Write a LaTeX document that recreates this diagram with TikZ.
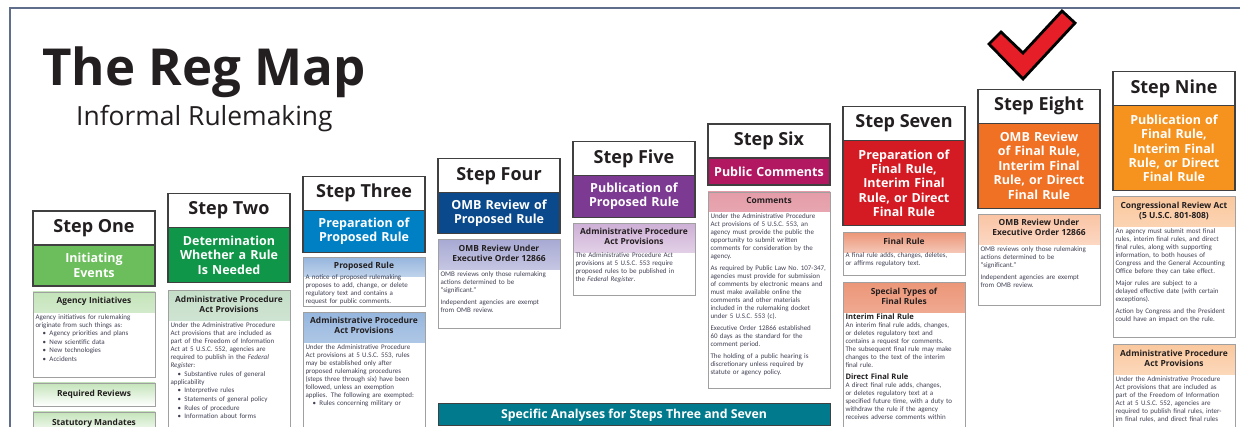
\documentclass[tikz,border=0pt]{standalone}
\usepackage{fontspec}
\setmainfont{Open Sans}
\newfontfamily\bodyfont{Carlito}
\usetikzlibrary{positioning}

\definecolor{framecol}{RGB}{96,110,140}
\definecolor{edgecol}{RGB}{64,64,64}
\definecolor{boxcol}{RGB}{160,160,160}
\definecolor{bodycol}{RGB}{66,66,86}
\definecolor{headcol}{RGB}{35,31,32}
\definecolor{checkred}{RGB}{230,30,40}
\definecolor{oneband}{RGB}{108,190,92}
\definecolor{twoband}{RGB}{16,150,72}
\definecolor{threeband}{RGB}{0,128,196}
\definecolor{fourband}{RGB}{10,74,140}
\definecolor{fiveband}{RGB}{124,58,146}
\definecolor{sixband}{RGB}{178,24,98}
\definecolor{sevenband}{RGB}{212,26,34}
\definecolor{eightband}{RGB}{240,112,36}
\definecolor{nineband}{RGB}{246,146,30}
\definecolor{analysisband}{RGB}{0,122,140}
\definecolor{onetint}{RGB}{196,228,186}
\definecolor{twotint}{RGB}{196,222,200}
\definecolor{threetint}{RGB}{150,182,222}
\definecolor{fourtint}{RGB}{168,170,212}
\definecolor{fivetint}{RGB}{206,176,214}
\definecolor{sixtint}{RGB}{228,156,168}
\definecolor{seventint}{RGB}{236,150,120}
\definecolor{eighttint}{RGB}{250,196,164}
\definecolor{ninetint}{RGB}{250,200,158}

\setlength{\parindent}{0pt}
\newcommand{\boxtitle}[2][7.5pt]{{\centering\normalfont\bfseries\fontsize{8.4}{10}\selectfont\color{headcol}#2\par}\vspace{#1}}
\newcommand{\subhead}[1]{{\normalfont\bfseries\fontsize{7.6}{8}\selectfont\color{headcol}#1}\\}
\newcommand{\itm}{\par\vspace{0.6pt}\hangindent=14pt\hangafter=1\hspace*{7pt}\textbullet\hspace{3.5pt}}
\newcommand{\gap}{\par\vspace{4pt}}

\begin{document}
\begin{tikzpicture}[
  x=1pt, y=-1pt,
  stephead/.style={
    draw=edgecol,
    line width=1.3pt,
    fill=white,
    anchor=north west,
    outer sep=0pt,
    minimum width=122pt,
    minimum height=34pt,
    text=headcol,
    font=\bfseries\fontsize{18}{20}\selectfont
  },
  stepband/.style={
    draw=edgecol,
    line width=1.3pt,
    fill=#1,
    outer sep=0pt,
    minimum width=122pt,
    text width=116pt,
    inner sep=2pt,
    align=center,
    text=white,
    font=\bfseries\fontsize{12.5}{14.4}\selectfont
  },
  infobox/.style 2 args={
    draw=boxcol,
    line width=0.9pt,
    fill=white,
    outer sep=0pt,
    minimum width=122pt,
    text=headcol,
    font=\bfseries\fontsize{8.4}{10}\selectfont,
    path picture={\shade[top color=#1, bottom color=white]
      (path picture bounding box.north west) rectangle
      ([yshift=-#2]path picture bounding box.north east);}
  },
  infotext/.style={
    text width=117pt,
    inner sep=0pt,
    align=left,
    text=bodycol,
    font=\bodyfont\fontsize{7}{8}\selectfont
  }
]
\fill[white] (0,0) rectangle (1240,427);
\useasboundingbox (0,0) rectangle (1240,427);
\clip (0,0) rectangle (1240,427);

% Frame and title
\draw[framecol, line width=1.5pt] (10,430) -- (10,8) -- (1242,8);
\node[anchor=base west, inner sep=0pt, text=headcol, font=\bfseries\fontsize{51}{60}\selectfont] (title) at (42,86) {The Reg Map};
\node[anchor=base west, inner sep=0pt, text=headcol, font=\fontsize{26.4}{30}\selectfont] (subtitle) at (76,126) {Informal Rulemaking};

% Check mark
\filldraw[fill=checkred, draw=black, line width=2.8pt, miter limit=10]
  (989,44) -- (1001,32) -- (1023,53) -- (1062,11) -- (1075,23) -- (1023,79) -- cycle;

% Step One
\node[stephead] (h1) at (33,211) {Step One};
\node[stepband=oneband, minimum height=41pt, below=0pt of h1] (b1) {Initiating\\Events};
\node[infobox={onetint}{21pt}, minimum height=85pt, below=6pt of b1] (i1a) {};
\node[infotext, below=5pt of i1a.north] (t1a) {\boxtitle{Agency Initiatives}Agency initiatives for rulemaking\\ originate from such things as:
  \itm Agency priorities and plans \itm New scientific data \itm New technologies \itm Accidents};
\node[infobox={onetint}{23pt}, minimum height=23pt, below=6pt of i1a] (i1b) {Required Reviews};
\node[infobox={onetint}{23pt}, minimum height=23pt, below=6pt of i1b] (i1c) {Statutory Mandates};

% Step Two
\node[stephead] (h2) at (168,193.6) {Step Two};
\node[stepband=twoband, minimum height=55pt, below=0pt of h2] (b2) {Determination\\Whether a Rule\\Is Needed};
\node[infobox={twotint}{30pt}, minimum height=160pt, below=8pt of b2] (i2a) {};
\node[infotext, below=5pt of i2a.north] (t2a) {\boxtitle{Administrative Procedure\\Act Provisions}Under the Administrative Procedure\\ Act provisions that are included as\\ part of the Freedom of Information\\ Act at 5 U.S.C. 552, agencies are\\ required to publish in the \emph{Federal}\\ \emph{Register}:
  \itm Substantive rules of general\\ applicability \itm Interpretive rules \itm Statements of general policy \itm Rules of procedure \itm Information about forms};

% Step Three
\node[stephead] (h3) at (303,176.2) {Step Three};
\node[stepband=threeband, minimum height=42pt, below=0pt of h3] (b3) {Preparation of\\Proposed Rule};
\node[infobox={threetint}{19pt}, minimum height=49pt, below=5pt of b3] (i3a) {};
\node[infotext, below=5pt of i3a.north] (t3a) {\boxtitle[3pt]{Proposed Rule}A notice of proposed rulemaking\\ proposes to add, change, or delete\\ regulatory text and contains a\\ request for public comments.};
\node[infobox={threetint}{30pt}, minimum height=130pt, below=6pt of i3a] (i3b) {};
\node[infotext, below=5pt of i3b.north] (t3b) {\boxtitle{Administrative Procedure\\Act Provisions}Under the Administrative Procedure\\ Act provisions at 5 U.S.C. 553, rules\\ may be established only after\\ proposed rulemaking procedures\\ (steps three through six) have been\\ followed, unless an exemption\\ applies. The following are exempted:
  \itm Rules concerning military or};

% Step Four
\node[stephead] (h4) at (438,158.8) {Step Four};
\node[stepband=fourband, minimum height=41pt, below=0pt of h4] (b4) {OMB Review of\\Proposed Rule};
\node[infobox={fourtint}{30pt}, minimum height=89pt, below=6pt of b4] (i4a) {};
\node[infotext, below=5pt of i4a.north] (t4a) {\boxtitle{OMB Review Under\\Executive Order 12866}OMB reviews only those rulemaking\\ actions determined to be\\ “significant.”\gap Independent agencies are exempt\\ from OMB review.};

% Step Five
\node[stephead] (h5) at (573,141.4) {Step Five};
\node[stepband=fiveband, minimum height=42pt, below=0pt of h5] (b5) {Publication of\\Proposed Rule};
\node[infobox={fivetint}{29pt}, minimum height=72pt, below=6pt of b5] (i5a) {};
\node[infotext, below=5pt of i5a.north] (t5a) {\boxtitle[5pt]{Administrative Procedure\\Act Provisions}The Administrative Procedure Act\\ provisions at 5 U.S.C. 553 require\\ proposed rules to be published in\\ the \emph{Federal Register}.};

% Step Six
\node[stephead] (h6) at (708,124) {Step Six};
\node[stepband=sixband, minimum height=27pt, below=0pt of h6] (b6) {Public Comments};
\node[infobox={sixtint}{20pt}, minimum height=196pt, below=7pt of b6] (i6a) {};
\node[infotext, below=5pt of i6a.north] (t6a) {\boxtitle{Comments}Under the Administrative Procedure\\ Act provisions of 5 U.S.C. 553, an\\ agency must provide the public the\\ opportunity to submit written\\ comments for consideration by the\\ agency.\gap As required by Public Law No.~107-347,\\ agencies must provide for submission\\ of comments by electronic means and\\ must make available online the\\ comments and other materials\\ included in the rulemaking docket\\ under 5 U.S.C. 553 (c).\gap Executive Order 12866 established\\ 60 days as the standard for the\\ comment period.\gap The holding of a public hearing is\\ discretionary unless required by\\ statute or agency policy.};

% Step Seven
\node[stephead] (h7) at (843,106.6) {Step Seven};
\node[stepband=sevenband, minimum height=85pt, below=0pt of h7] (b7) {Preparation of\\Final Rule,\\Interim Final\\Rule, or Direct\\Final Rule};
\node[infobox={seventint}{20pt}, minimum height=43pt, below=7pt of b7] (i7a) {};
\node[infotext, below=5pt of i7a.north] (t7a) {\boxtitle[5pt]{Final Rule}A final rule adds, changes, deletes,\\ or affirms regulatory text.};
\node[infobox={seventint}{30pt}, minimum height=160pt, below=7pt of i7a] (i7b) {};
\node[infotext, below=5pt of i7b.north] (t7b) {\boxtitle{Special Types of\\Final Rules}\subhead{Interim Final Rule}An interim final rule adds, changes,\\ or deletes regulatory text and\\ contains a request for comments.\\ The subsequent final rule may make\\ changes to the text of the interim\\ final rule.\gap \subhead{Direct Final Rule}A direct final rule adds, changes,\\ or deletes regulatory text at a\\ specified future time, with a duty to\\ withdraw the rule if the agency\\ receives adverse comments within};

% Step Eight
\node[stephead] (h8) at (978,89.2) {Step Eight};
\node[stepband=eightband, minimum height=85pt, below=0pt of h8] (b8) {OMB Review\\of Final Rule,\\Interim Final\\Rule, or Direct\\Final Rule};
\node[infobox={eighttint}{30pt}, minimum height=91pt, below=6pt of b8] (i8a) {};
\node[infotext, below=5pt of i8a.north] (t8a) {\boxtitle{OMB Review Under\\Executive Order 12866}OMB reviews only those rulemaking\\ actions determined to be\\ “significant.”\gap Independent agencies are exempt\\ from OMB review.};

% Step Nine
\node[stephead] (h9) at (1113,71.8) {Step Nine};
\node[stepband=nineband, minimum height=85pt, below=0pt of h9] (b9) {Publication of\\Final Rule,\\Interim Final\\Rule, or Direct\\Final Rule};
\node[infobox={ninetint}{30pt}, minimum height=141pt, below=6pt of b9] (i9a) {};
\node[infotext, below=5pt of i9a.north] (t9a) {\boxtitle{Congressional Review Act\\(5 U.S.C. 801-808)}An agency must submit most final\\ rules, interim final rules, and direct\\ final rules, along with supporting\\ information, to both houses of\\ Congress and the General Accounting\\ Office before they can take effect.\gap Major rules are subject to a\\ delayed effective date (with certain\\ exceptions).\gap Action by Congress and the President\\ could have an impact on the rule.};
\node[infobox={ninetint}{30pt}, minimum height=100pt, below=7pt of i9a] (i9b) {};
\node[infotext, below=5pt of i9b.north] (t9b) {\boxtitle{Administrative Procedure\\Act Provisions}Under the Administrative Procedure\\ Act provisions that are included as\\ part of the Freedom of Information\\ Act at 5 U.S.C. 552, agencies are\\ required to publish final rules, inter-\\ im final rules, and direct final rules};

% Analyses band
\node[anchor=north west, draw=edgecol, line width=1pt, fill=analysisband, outer sep=0pt, minimum width=392pt, minimum height=22pt, text=white, font=\bfseries\fontsize{12.3}{14}\selectfont] (analyses) at (438,404) {Specific Analyses for Steps Three and Seven};

\end{tikzpicture}
\end{document}
